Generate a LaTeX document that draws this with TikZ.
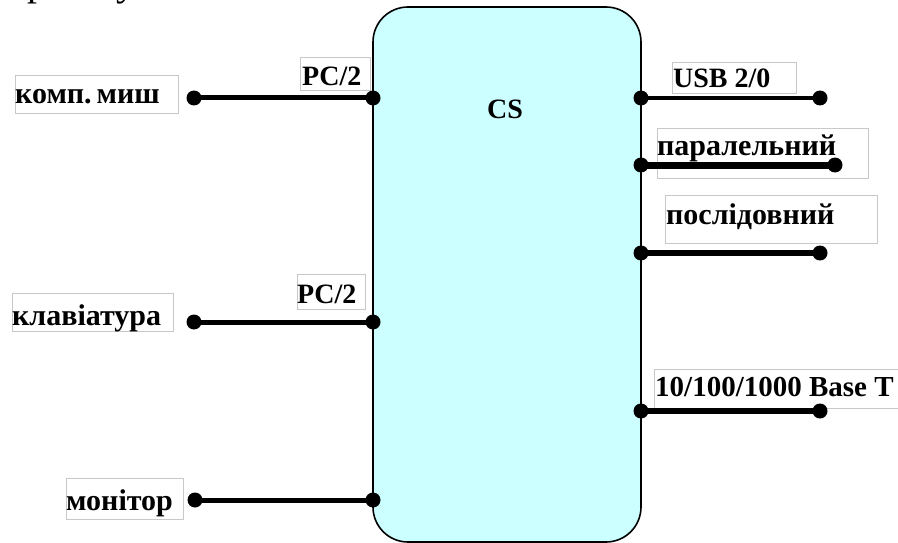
\documentclass[tikz,border=0pt]{standalone}
\usepackage{fontspec}
\setmainfont{Liberation Serif}
\definecolor{boxfill}{HTML}{CCFFFF}
\definecolor{lblgray}{HTML}{C8C8C8}
\tikzset{
  lblbox/.style={draw=lblgray, line width=0.8pt, fill=white, anchor=north west, inner sep=0pt},
  lbltxt/.style={anchor=base west, inner sep=0pt, font=\fontsize{28}{32}\selectfont\bfseries},
  cyrtxt/.style={lbltxt, font=\fontsize{30}{34}\selectfont\bfseries},
  dotc/.style={circle, fill=black, inner sep=0pt, minimum size=15pt},
  wire/.style={line width=5pt},
}
\begin{document}
\begin{tikzpicture}[x=1pt,y=-1pt]
\useasboundingbox (0,0) rectangle (898,543);
\begin{scope}
\clip (0,0) rectangle (898,543);
% partial text from the line above
\node[anchor=base west, inner sep=0pt, font=\fontsize{40}{44}\selectfont] (topr) at (27,-4) {р};
\node[anchor=base west, inner sep=0pt, font=\fontsize{40}{44}\selectfont] (topu) at (116,-4) {у};
% main block
\draw[line width=1.6pt, fill=boxfill, rounded corners=35pt] (373,7) rectangle (641,542);
\end{scope}
\node[lbltxt] (cstxt) at (487,118) {CS};

% label boxes
\node[lblbox, minimum width=163pt, minimum height=38pt] (bmouse) at (15,75) {};
\node[lblbox, minimum width=70pt, minimum height=33pt] (bpc1) at (300,57) {};
\node[lblbox, minimum width=161pt, minimum height=38pt] (bkbd) at (12,293) {};
\node[lblbox, minimum width=68pt, minimum height=35pt] (bpc2) at (297,274) {};
\node[lblbox, minimum width=117pt, minimum height=41pt] (bmon) at (66,478) {};
\node[lblbox, minimum width=124pt, minimum height=31pt] (busb) at (672,62) {};
\node[lblbox, minimum width=211pt, minimum height=50pt] (bpar) at (657,128) {};
\node[lblbox, minimum width=212pt, minimum height=48pt] (bser) at (665,195) {};
\node[lblbox, minimum width=250pt, minimum height=39pt] (beth) at (654,369) {};

% label texts
\node[cyrtxt] (tmouse) at (15,104) {комп.\,миш};
\node[lbltxt] (tpc1) at (302,85) {PC/2};
\node[cyrtxt] (tkbd) at (12,325) {клавіатура};
\node[lbltxt] (tpc2) at (297,303) {PC/2};
\node[cyrtxt] (tmon) at (66,510) {монітор};
\node[lbltxt] (tusb) at (673,88) {USB 2/0};
\node[cyrtxt] (tpar) at (657,156) {паралельний};
\node[cyrtxt] (tser) at (666,224) {послідовний};
\node[lbltxt, font=\fontsize{29}{33}\selectfont\bfseries] (teth) at (655,396) {10/100/1000 Base T};

% connector end points
\node[dotc] (m1) at (194,98) {};
\node[dotc] (m2) at (373,98) {};
\node[dotc] (k1) at (194,322) {};
\node[dotc] (k2) at (373,322) {};
\node[dotc] (n1) at (195,500) {};
\node[dotc] (n2) at (373,500) {};
\node[dotc] (u1) at (641,98) {};
\node[dotc] (u2) at (820,98) {};
\node[dotc] (p1) at (641,165) {};
\node[dotc] (p2) at (835,165) {};
\node[dotc] (s1) at (641,253) {};
\node[dotc] (s2) at (820,253) {};
\node[dotc] (e1) at (641,411) {};
\node[dotc] (e2) at (820,411) {};

% wires
\draw[wire] (m1.center) -- (m2.center);
\draw[wire] (k1.center) -- (k2.center);
\draw[wire] (n1.center) -- (n2.center);
\draw[line width=4pt] (u1.center) -- (u2.center);
\draw[line width=7pt] (p1.center) -- (p2.center);
\draw[line width=6.5pt] (s1.center) -- (s2.center);
\draw[line width=6pt] (e1.center) -- (e2.center);
\end{tikzpicture}
\end{document}
